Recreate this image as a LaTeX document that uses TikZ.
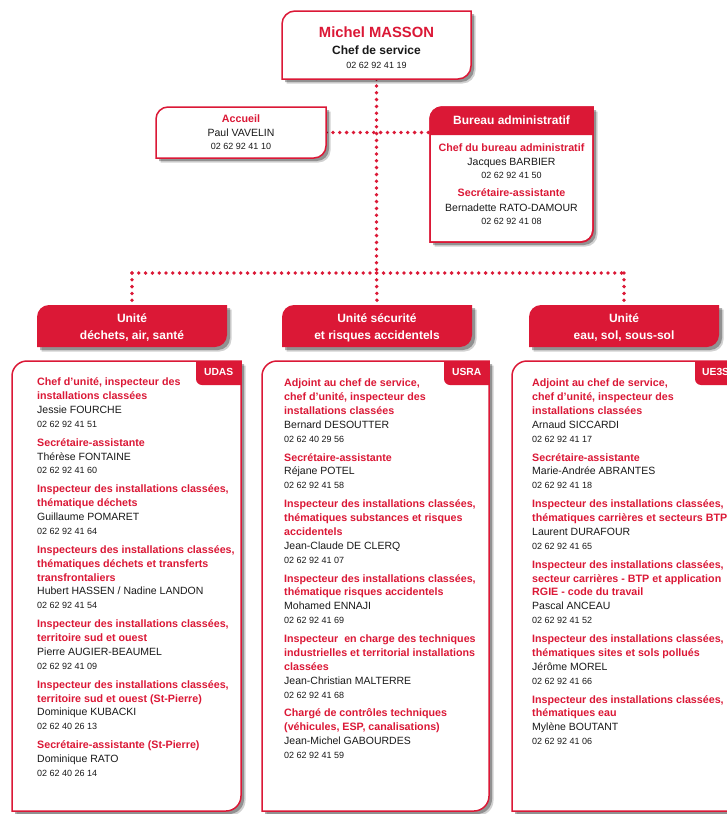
\documentclass[tikz,border=0pt]{standalone}
\usepackage{fontspec}
\setmainfont{Liberation Sans}
\definecolor{brand}{RGB}{219,24,54}
\definecolor{ink}{RGB}{25,25,25}
\pgfdeclarelayer{bg}
\pgfdeclarelayer{paper}
\pgfsetlayers{paper,bg,main}
\tikzset{
  rlab/.style={font=\fontsize{10.7}{12}\selectfont\bfseries, text=brand, inner sep=0pt},
  nlab/.style={font=\fontsize{10.5}{12}\selectfont, text=ink, inner sep=0pt},
  plab/.style={font=\fontsize{9}{11}\selectfont, text=ink, inner sep=0pt},
  hlab/.style={font=\fontsize{12}{14}\selectfont\bfseries, text=white, inner sep=0pt},
  taglab/.style={font=\fontsize{10.3}{12}\selectfont\bfseries, text=white, inner sep=0pt},
  dotline/.style={draw=brand, line width=3.8pt, line cap=round, dash pattern=on 0pt off 6.8pt},
  boxline/.style={draw=brand, line width=1.5pt},
  frame/.style={inner sep=0pt, draw=none},
}
\def\leafpath#1#2#3#4#5{(#1,#4) -- (#1,#2+#5) .. controls (#1,#2+0.45*#5) and (#1+0.45*#5,#2) .. (#1+#5,#2) -- (#3,#2) -- (#3,#4-#5) .. controls (#3,#4-0.45*#5) and (#3-0.45*#5,#4) .. (#3-#5,#4) -- cycle}
\newcommand\leafbox[8]{%
  \fill[black,opacity=0.18,shift={(4.5,4.5)}] \leafpath{#2}{#3}{#4}{#5}{#6};
  \fill[black,opacity=0.3,shift={(3,3)}] \leafpath{#2}{#3}{#4}{#5}{#6};
  \path[fill=#7,#8] \leafpath{#2}{#3}{#4}{#5}{#6};
  \pgfmathsetmacro\bxw{#4-#2}\pgfmathsetmacro\bxh{#5-#3}
  \node[frame, minimum width=\bxw pt, minimum height=\bxh pt] (#1) at ({(#2+#4)/2},{(#3+#5)/2}) {};
}
\newcommand\tagbox[4]{% name, x1, x2, y1
  \fill[brand] (#2,#4) -- (#3,#4) -- (#3,#4+24) -- (#2+6,#4+24) .. controls (#2+2.7,#4+24) and (#2,#4+21.3) .. (#2,#4+18) -- cycle;
  \node[frame, minimum width=45pt, minimum height=24pt, anchor=north west] (#1) at (#2,#4) {};
}
\newcommand\colstart[2]{\def\colX{#1}\def\colY{#2}}
\newcounter{tl}
\newcommand\putl[2]{\stepcounter{tl}\node[#1,anchor=mid west] (tl\arabic{tl}) at (\colX,\colY) {#2};}
\newcommand\redl[1]{\putl{rlab}{#1}\pgfmathsetmacro\colY{\colY+13.9}}
\newcommand\namel[1]{\putl{nlab}{#1}\pgfmathsetmacro\colY{\colY+13.9}}
\newcommand\phonel[1]{\putl{plab}{#1}\pgfmathsetmacro\colY{\colY+18.8}}
\begin{document}
\begin{tikzpicture}[x=1pt,y=-1pt]
\useasboundingbox (0,0) rectangle (727,814);
\clip (0,0) rectangle (727,814);
\begin{pgfonlayer}{paper}
\fill[white] (0,0) rectangle (727,814);
\end{pgfonlayer}

% --- boxes
\leafbox{chef}{282}{11}{471}{79}{13}{white}{boxline}
\leafbox{accueil}{156}{107}{326}{158}{12}{white}{boxline}
\leafbox{bureau}{430}{107}{593}{242}{12}{white}{boxline}
\fill[brand] (430,135) -- (430,119) .. controls (430,113.6) and (435.4,107) .. (442,107) -- (593,107) -- (593,135) -- cycle;
\path[boxline] \leafpath{430}{107}{593}{242}{12};

\leafbox{u1}{37}{305}{227}{347}{12}{brand}{draw=none}
\leafbox{u2}{282}{305}{472}{347}{12}{brand}{draw=none}
\leafbox{u3}{529}{305}{719}{347}{12}{brand}{draw=none}

\leafbox{b1}{12}{361}{241}{811}{15}{white}{boxline}
\leafbox{b2}{262}{361}{489}{811}{15}{white}{boxline}
\leafbox{b3}{512}{361}{745}{811}{15}{white}{boxline}
\tagbox{tag1}{196}{241}{361}
\tagbox{tag2}{444}{489}{361}
\tagbox{tag3}{695}{740}{361}
\node[taglab, anchor=mid] (tag1t) at (tag1.center) {UDAS};
\node[taglab, anchor=mid] (tag2t) at (tag2.center) {USRA};
\node[taglab, anchor=mid west] (tag3t) at (702,373) {UE3S};

% --- connectors
\coordinate (jn) at (376.5,273);
\begin{pgfonlayer}{bg}
\draw[dotline] (chef.south) -- (jn);
\draw[dotline] (jn) -- (u2.north);
\draw[dotline] (u1.north |- jn) -- (u3.north |- jn);
\draw[dotline] (u1.north |- jn) -- (u1.north);
\draw[dotline] (u3.north |- jn) -- (u3.north);
\draw[dotline] (accueil.east) -- (accueil.east -| bureau.west);
\end{pgfonlayer}

% --- top box texts
\node[font=\fontsize{14.8}{16}\selectfont\bfseries, text=brand, inner sep=0pt, anchor=mid] (chefname) at (376.5,35) {Michel MASSON};
\node[font=\fontsize{12}{14}\selectfont\bfseries, text=ink, inner sep=0pt, anchor=mid] (cheftitle) at (376.5,52) {Chef de service};
\node[plab, anchor=mid] (chefphone) at (376.5,66) {02 62 92 41 19};

\node[rlab, anchor=mid] (acct) at (241,120) {Accueil};
\node[nlab, anchor=mid] (accn) at (241,134) {Paul VAVELIN};
\node[plab, anchor=mid] (accp) at (241,147) {02 62 92 41 10};

\node[hlab, anchor=mid] (bureauh) at (511.5,122) {Bureau administratif};
\node[rlab, anchor=mid] (bu1) at (511.5,149) {Chef du bureau administratif};
\node[nlab, anchor=mid] (bu2) at (511.5,163) {Jacques BARBIER};
\node[plab, anchor=mid] (bu3) at (511.5,176) {02 62 92 41 50};
\node[rlab, anchor=mid] (bu4) at (511.5,194) {Secrétaire-assistante};
\node[nlab, anchor=mid] (bu5) at (511.5,209) {Bernadette RATO-DAMOUR};
\node[plab, anchor=mid] (bu6) at (511.5,222) {02 62 92 41 08};

% --- unit headers
\node[hlab, anchor=mid] (u1a) at (132,320) {Unité};
\node[hlab, anchor=mid] (u1b) at (132,337) {déchets, air, santé};
\node[hlab, anchor=mid] (u2a) at (377,320) {Unité sécurité};
\node[hlab, anchor=mid] (u2b) at (377,337) {et risques accidentels};
\node[hlab, anchor=mid] (u3a) at (624,320) {Unité};
\node[hlab, anchor=mid] (u3b) at (624,337) {eau, sol, sous-sol};

% --- column 1
\colstart{37}{383}
\redl{Chef d’unité, inspecteur des}
\redl{installations classées}
\namel{Jessie FOURCHE}
\phonel{02 62 92 41 51}
\redl{Secrétaire-assistante}
\namel{Thérèse FONTAINE}
\phonel{02 62 92 41 60}
\redl{Inspecteur des installations classées,}
\redl{thématique déchets}
\namel{Guillaume POMARET}
\phonel{02 62 92 41 64}
\redl{Inspecteurs des installations classées,}
\redl{thématiques déchets et transferts}
\redl{transfrontaliers}
\namel{Hubert HASSEN / Nadine LANDON}
\phonel{02 62 92 41 54}
\redl{Inspecteur des installations classées,}
\redl{territoire sud et ouest}
\namel{Pierre AUGIER-BEAUMEL}
\phonel{02 62 92 41 09}
\redl{Inspecteur des installations classées,}
\redl{territoire sud et ouest (St-Pierre)}
\namel{Dominique KUBACKI}
\phonel{02 62 40 26 13}
\redl{Secrétaire-assistante (St-Pierre)}
\namel{Dominique RATO}
\phonel{02 62 40 26 14}

% --- column 2
\colstart{284}{384}
\redl{Adjoint au chef de service,}
\redl{chef d’unité, inspecteur des}
\redl{installations classées}
\namel{Bernard DESOUTTER}
\phonel{02 62 40 29 56}
\redl{Secrétaire-assistante}
\namel{Réjane POTEL}
\phonel{02 62 92 41 58}
\redl{Inspecteur des installations classées,}
\redl{thématiques substances et risques}
\redl{accidentels}
\namel{Jean-Claude DE CLERQ}
\phonel{02 62 92 41 07}
\redl{Inspecteur des installations classées,}
\redl{thématique risques accidentels}
\namel{Mohamed ENNAJI}
\phonel{02 62 92 41 69}
\redl{Inspecteur~ en charge des techniques}
\redl{industrielles et territorial installations}
\redl{classées}
\namel{Jean-Christian MALTERRE}
\phonel{02 62 92 41 68}
\redl{Chargé de contrôles techniques}
\redl{(véhicules, ESP, canalisations)}
\namel{Jean-Michel GABOURDES}
\phonel{02 62 92 41 59}

% --- column 3
\colstart{532}{384}
\redl{Adjoint au chef de service,}
\redl{chef d’unité, inspecteur des}
\redl{installations classées}
\namel{Arnaud SICCARDI}
\phonel{02 62 92 41 17}
\redl{Secrétaire-assistante}
\namel{Marie-Andrée ABRANTES}
\phonel{02 62 92 41 18}
\redl{Inspecteur des installations classées,}
\redl{thématiques carrières et secteurs BTP}
\namel{Laurent DURAFOUR}
\phonel{02 62 92 41 65}
\redl{Inspecteur des installations classées,}
\redl{secteur carrières - BTP et application}
\redl{RGIE - code du travail}
\namel{Pascal ANCEAU}
\phonel{02 62 92 41 52}
\redl{Inspecteur des installations classées,}
\redl{thématiques sites et sols pollués}
\namel{Jérôme MOREL}
\phonel{02 62 92 41 66}
\redl{Inspecteur des installations classées,}
\redl{thématiques eau}
\namel{Mylène BOUTANT}
\phonel{02 62 92 41 06}
\end{tikzpicture}
\end{document}
